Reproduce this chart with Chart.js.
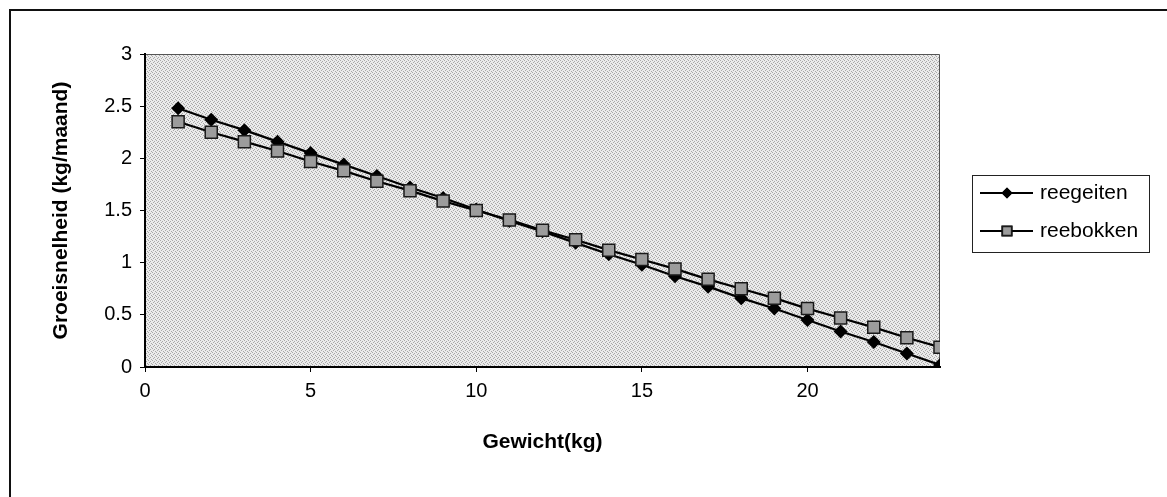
<!DOCTYPE html>
<html>
<head>
<meta charset="utf-8">
<script src="https://cdn.jsdelivr.net/npm/chart.js@4/dist/chart.umd.min.js"></script>
<style>
  html, body { margin: 0; padding: 0; background: #fff; }
  #wrap { width: 1167px; height: 497px; position: relative; }
</style>
</head>
<body>
<div id="wrap"><canvas id="groeiChart"></canvas></div>
<script>
// gewicht in kg en groeisnelheid in kg/maand
const gewicht = [1, 2, 3, 4, 5, 6, 7, 8, 9, 10, 11, 12, 13, 14, 15, 16, 17, 18, 19, 20, 21, 22, 23, 24];
const reegeiten = [2.48, 2.37, 2.27, 2.16, 2.05, 1.94, 1.83, 1.72, 1.62, 1.51, 1.40, 1.30,
                   1.19, 1.08, 0.98, 0.87, 0.77, 0.66, 0.56, 0.45, 0.34, 0.24, 0.13, 0.02];
const reebokken = [2.35, 2.25, 2.16, 2.07, 1.97, 1.88, 1.78, 1.69, 1.59, 1.50, 1.41, 1.31,
                   1.22, 1.12, 1.03, 0.94, 0.84, 0.75, 0.66, 0.56, 0.47, 0.38, 0.28, 0.19];
const seriesNames = ["reegeiten", "reebokken"];
const xTitle = "Gewicht(kg)";
const yTitle = "Groeisnelheid (kg/maand)";

const FONT = "Arial, 'Liberation Sans', sans-serif";

// grijze gespikkelde achtergrond van het plotvlak
function makeStipple() {
    const c = document.createElement("canvas");
    c.width = 4; c.height = 4;
    const g = c.getContext("2d");
    g.fillStyle = "#ebebeb";
    g.fillRect(0, 0, 4, 4);
    g.fillStyle = "#a8a8a8";
    [[0, 0], [2, 1], [1, 2], [3, 3]].forEach(p => g.fillRect(p[0], p[1], 1, 1));
    return c;
}

function toPoints(ys) {
    return gewicht.map((x, i) => ({ x: x, y: ys[i] }));
}

const framePlugin = {
    id: "frame",
    beforeDraw(chart) {
        const ctx = chart.ctx;
        const a = chart.chartArea;
        ctx.save();
        // buitenrand
        ctx.strokeStyle = "#111";
        ctx.lineWidth = 2;
        ctx.strokeRect(10, 10, 1180, 520);
        // plotvlak
        ctx.fillStyle = ctx.createPattern(makeStipple(), "repeat");
        ctx.fillRect(a.left, a.top, a.right - a.left, a.bottom - a.top);
        ctx.strokeStyle = "#555";
        ctx.lineWidth = 1;
        ctx.beginPath();
        ctx.moveTo(a.left, a.top + 0.5);
        ctx.lineTo(a.right - 0.5, a.top + 0.5);
        ctx.lineTo(a.right - 0.5, a.bottom);
        ctx.stroke();
        ctx.restore();
    },
    afterDraw(chart) {
        // legenda met lijn + marker
        const ctx = chart.ctx;
        ctx.save();
        ctx.strokeStyle = "#222";
        ctx.lineWidth = 1;
        ctx.strokeRect(972.5, 175.5, 177, 77);
        const rows = [193, 231];
        chart.data.datasets.forEach(ds => {
            const y = rows[ds.legendRow];
            ctx.strokeStyle = "#000";
            ctx.lineWidth = 2;
            ctx.beginPath();
            ctx.moveTo(980, y);
            ctx.lineTo(1033, y);
            ctx.stroke();
            Chart.helpers.drawPoint(ctx, {
                pointStyle: ds.pointStyle,
                radius: ds.legendRadius,
                rotation: 0,
                borderWidth: ds.pointBorderWidth
            }, 1007, y);
            ctx.fillStyle = ds.pointBackgroundColor;
            ctx.strokeStyle = ds.pointBorderColor;
            ctx.lineWidth = ds.pointBorderWidth;
            ctx.fill();
            if (ds.pointBorderWidth) ctx.stroke();
            ctx.fillStyle = "#000";
            ctx.font = "21px " + FONT;
            ctx.textBaseline = "middle";
            ctx.textAlign = "left";
            ctx.fillText(ds.label, 1040, y);
        });
        ctx.restore();
    }
};

function initChart() {
    const ctx = document.getElementById("groeiChart").getContext("2d");
    new Chart(ctx, {
        type: "line",
        data: {
            datasets: [{
                label: seriesNames[0],
                data: toPoints(reegeiten),
                borderColor: "#000",
                borderWidth: 2.2,
                pointStyle: "rectRot",
                pointRadius: 7,
                pointBackgroundColor: "#000",
                pointBorderColor: "#000",
                pointBorderWidth: 0,
                legendRadius: 5.5,
                legendRow: 0,
                order: 1
            }, {
                label: seriesNames[1],
                data: toPoints(reebokken),
                borderColor: "#000",
                borderWidth: 2.2,
                pointStyle: "rect",
                pointRadius: 8.5,
                pointBackgroundColor: "#9c9c9c",
                pointBorderColor: "#1a1a1a",
                pointBorderWidth: 1.5,
                legendRadius: 6.5,
                legendRow: 1,
                order: 0
            }]
        },
        options: {
            responsive: true,
            maintainAspectRatio: false,
            animation: false,
            layout: { padding: { top: 54, right: 227, left: 0, bottom: 0 } },
            plugins: {
                legend: { display: false },
                tooltip: { enabled: false }
            },
            scales: {
                x: {
                    type: "linear",
                    min: 0,
                    max: 24,
                    afterFit: s => { s.height = 130; },
                    ticks: { stepSize: 5, includeBounds: false, color: "#000", padding: 7, font: { family: FONT, size: 20 } },
                    grid: { drawOnChartArea: false, tickLength: 5, color: "#000" },
                    border: { color: "#000", width: 2 },
                    title: { display: true, text: xTitle, color: "#000", font: { family: FONT, size: 21, weight: "bold" }, padding: { top: 0, bottom: 42 } }
                },
                y: {
                    min: 0,
                    max: 3,
                    afterFit: s => { s.width = 145; },
                    ticks: { stepSize: 0.5, color: "#000", padding: 8, font: { family: FONT, size: 20 }, callback: v => String(v) },
                    grid: { drawOnChartArea: false, tickLength: 5, color: "#000" },
                    border: { color: "#000", width: 2 },
                    title: { display: true, text: yTitle, color: "#000", font: { family: FONT, size: 21, weight: "bold" }, padding: { top: 49, bottom: 0 } }
                }
            }
        },
        plugins: [framePlugin]
    });
}

window.onload = () => {
    initChart();
};
</script>
</body>
</html>
